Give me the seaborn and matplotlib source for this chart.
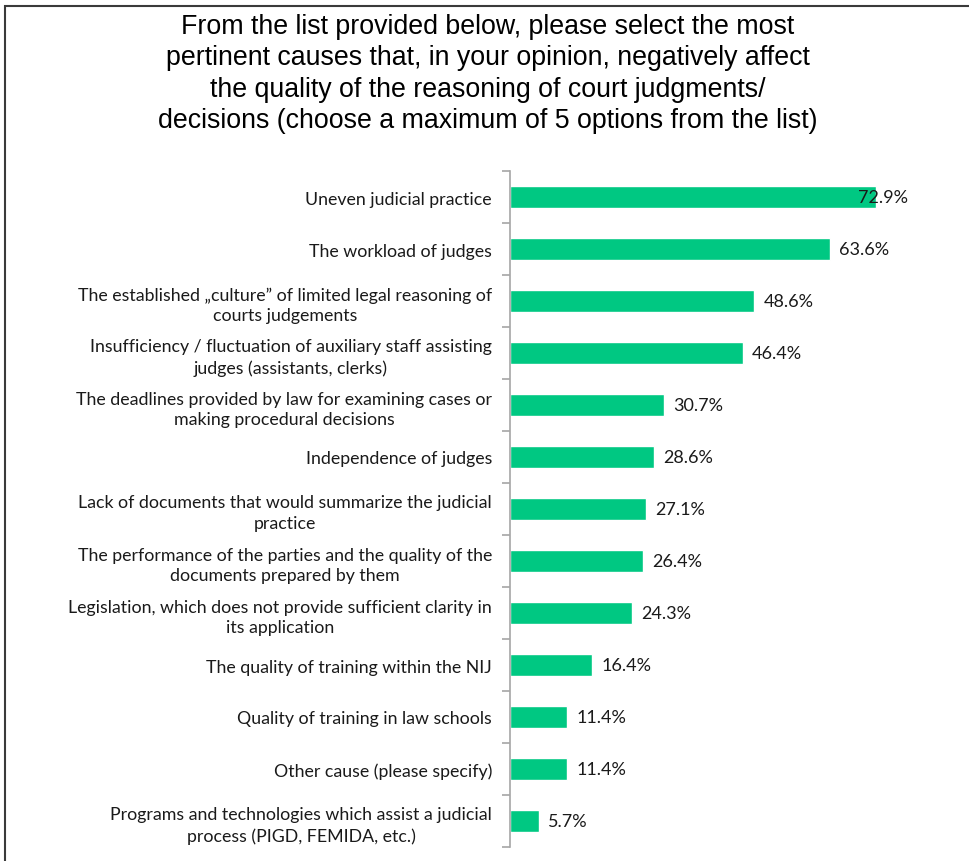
import matplotlib
matplotlib.use("Agg")
import matplotlib.pyplot as plt
import seaborn as sns
import pandas as pd
from matplotlib.patches import Rectangle
from matplotlib.ticker import FixedLocator

causes = [
    "Uneven judicial practice",
    "The workload of judges",
    "The established \u201eculture\u201d of limited legal reasoning of\ncourts judgements",
    "Insufficiency / fluctuation of auxiliary staff assisting\njudges (assistants, clerks)",
    "The deadlines provided by law for examining cases or\nmaking procedural decisions",
    "Independence of judges",
    "Lack of documents that would summarize the judicial\npractice",
    "The performance of the parties and the quality of the\ndocuments prepared by them",
    "Legislation, which does not provide sufficient clarity in\nits application",
    "The quality of training within the NIJ",
    "Quality of training in law schools",
    "Other cause (please specify)",
    "Programs and technologies which assist a judicial\nprocess (PIGD, FEMIDA, etc.)",
]
shares = [72.9, 63.6, 48.6, 46.4, 30.7, 28.6, 27.1, 26.4, 24.3, 16.4, 11.4, 11.4, 5.7]

title = ("From the list provided below, please select the most\n"
         "pertinent causes that, in your opinion, negatively affect\n"
         "the quality of the reasoning of court judgments/\n"
         "decisions (choose a maximum of 5 options from the list)")

df = pd.DataFrame({"cause": causes, "share": shares})

sns.set_style("white")
plt.rcParams["font.family"] = ["Lato", "DejaVu Sans"]

W, H = 970, 862
fig = plt.figure(figsize=(W / 100, H / 100), dpi=100)

left, right, top, bottom = 510, 912, 172, 848
ax = fig.add_axes([left / W, 1 - bottom / H, (right - left) / W, (bottom - top) / H])

bar_color = "#00C882"
sns.barplot(data=df, y="cause", x="share", orient="h", color=bar_color,
            width=0.42, saturation=1, ax=ax)

ax.set_xlim(0, 80)
ax.set_ylim(len(causes) - 0.5, -0.5)
ax.set_xlabel("")
ax.set_ylabel("")
ax.set_xticks([])

for s in ["top", "right", "bottom"]:
    ax.spines[s].set_visible(False)
ax.spines["left"].set_color("#a6a6a6")
ax.spines["left"].set_linewidth(1.2)

ax.tick_params(axis="y", which="major", length=0, pad=13, labelsize=12.8,
               labelcolor="#1a1a1a")
for lbl in ax.get_yticklabels():
    lbl.set_multialignment("center")
    lbl.set_linespacing(1.35)
ax.yaxis.set_minor_locator(FixedLocator([i - 0.5 for i in range(len(causes) + 1)]))
ax.tick_params(axis="y", which="minor", left=True, length=6, width=1.2,
               color="#a6a6a6", direction="out")

for i, v in enumerate(shares):
    ax.text(v + 1.8 if i else v - 3.6, i, f"{v:.1f}%", va="center", ha="left",
            fontsize=13, color="#1a1a1a")

fig.text(488 / W, 1 - 74 / H, title, ha="center", va="center",
         fontsize=19.3, family=["Liberation Sans", "DejaVu Sans"],
         linespacing=1.26, color="black")

fig.patches.append(Rectangle((5 / W, -0.05), 1.1, 1 - 7 / H + 0.05,
                             transform=fig.transFigure, fill=False,
                             edgecolor="#3a3a3a", linewidth=1.5))

fig.savefig("out.png", dpi=100, facecolor="white")
